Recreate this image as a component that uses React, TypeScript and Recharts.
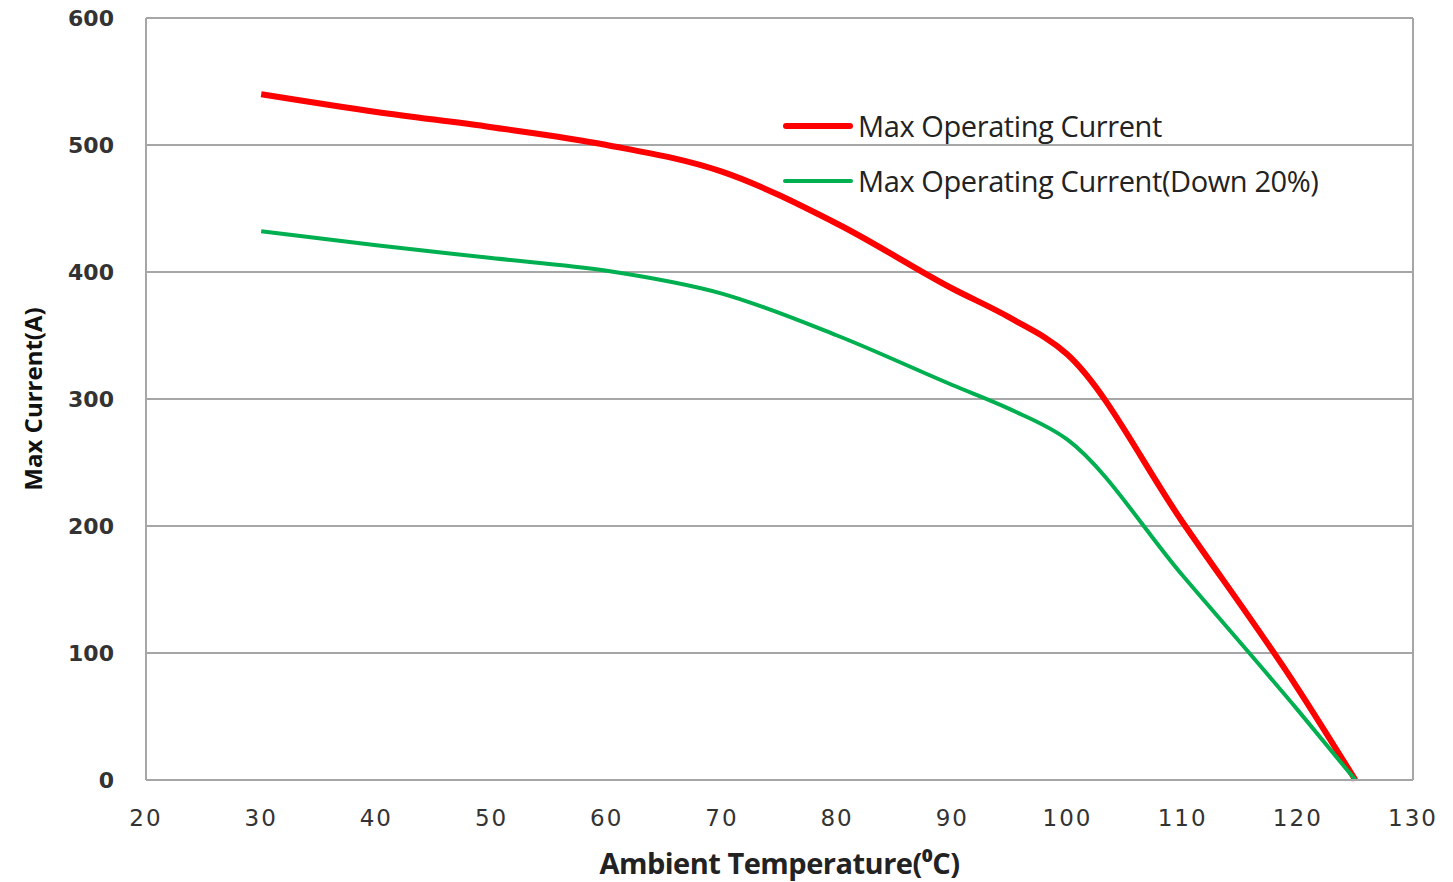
import { LineChart, Line, XAxis, YAxis, CartesianGrid, ReferenceLine, Label } from 'recharts';

const temps = [30, 40, 50, 60, 70, 80, 90, 95, 100, 110, 120, 125];
const maxCurrent = [540, 526, 514, 500, 479, 438, 387, 364, 335, 203, 72, 0];
const maxCurrentDown = [432, 421, 411, 401, 383, 350, 311, 292, 268, 161, 55, 0];
const xTicks = [20, 30, 40, 50, 60, 70, 80, 90, 100, 110, 120, 130];
const yTicks = [0, 100, 200, 300, 400, 500, 600];

const SERIES = [
  { key: 'max', name: 'Max Operating Current', color: '#FF0000', width: 6 },
  { key: 'down', name: 'Max Operating Current(Down 20%)', color: '#00B050', width: 4 },
];

const data = temps.map((t, i) => ({ t, max: maxCurrent[i], down: maxCurrentDown[i] }));

const GRID = '#A6A6A6';

function Legend() {
  return (
    <div style={{ position: 'absolute', left: 783, top: 98, fontFamily: '"Open Sans", sans-serif', fontSize: 29, color: '#222' }}>
      {SERIES.map((s) => (
        <div key={s.key} style={{ display: 'flex', alignItems: 'center', height: 55 }}>
          <div style={{ width: 70, height: s.width, background: s.color, borderRadius: 3, marginRight: 5 }} />
          <span style={{ letterSpacing: -0.4 }}>{s.name}</span>
        </div>
      ))}
    </div>
  );
}

export default function App() {
  return (
    <div style={{ position: 'absolute', left: 0, top: 0, width: 1453, height: 882, background: '#fff' }}>
      <LineChart width={1453} height={882} data={data} margin={{ top: 18, right: 40, bottom: 0, left: 0 }}>
        <CartesianGrid vertical={false} stroke={GRID} strokeWidth={2} />
        <XAxis
          dataKey="t"
          type="number"
          domain={[20, 130]}
          ticks={xTicks}
          height={102}
          stroke={GRID}
          strokeWidth={2}
          tickLine={false}
          tickMargin={24}
          tick={{ fill: '#333', fontSize: 23, fontFamily: 'DejaVu Sans', letterSpacing: 2 }}
        >
          <Label
            value="Ambient Temperature(⁰C)"
            position="insideBottom"
            offset={8}
            style={{ fill: '#222', fontSize: 29, fontWeight: 'bold', fontFamily: '"Open Sans", sans-serif', letterSpacing: -0.5 }}
          />
        </XAxis>
        <YAxis
          type="number"
          domain={[0, 600]}
          ticks={yTicks}
          width={146}
          stroke={GRID}
          strokeWidth={2}
          tickLine={false}
          tickMargin={26}
          tick={{ fill: '#333', fontSize: 22, fontWeight: 'bold', fontFamily: 'DejaVu Sans' }}
        >
          <Label
            value="Max Current(A)"
            angle={-90}
            position="insideLeft"
            offset={33}
            style={{ textAnchor: 'middle', fill: '#111', fontSize: 24, fontWeight: 'bold', fontFamily: '"Open Sans", sans-serif' }}
          />
        </YAxis>
        <ReferenceLine x={130} stroke={GRID} strokeWidth={2} />
        {SERIES.map((s) => (
          <Line
            key={s.key}
            type="monotone"
            dataKey={s.key}
            name={s.name}
            stroke={s.color}
            strokeWidth={s.width}
            dot={false}
            isAnimationActive={false}
          />
        ))}
      </LineChart>
      <Legend />
    </div>
  );
}
